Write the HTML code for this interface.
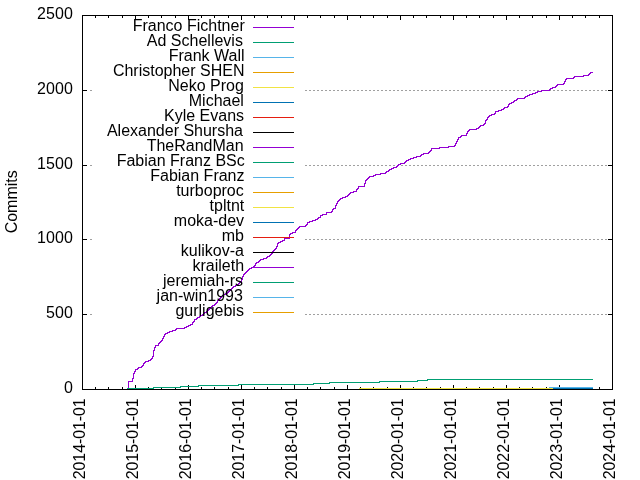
<!DOCTYPE html>
<html lang="en"><head><meta charset="utf-8"><title>Commits</title>
<style>html,body{margin:0;padding:0;background:#fff;overflow:hidden}svg{display:block;will-change:transform}text{font-family:"Liberation Sans",sans-serif;font-size:16px;fill:#000}</style></head><body>
<svg width="640" height="480" viewBox="0 0 640 480">
<rect width="640" height="480" fill="#fff"/>
<g fill="#a0a0a0" shape-rendering="crispEdges">
<rect x="90" y="90" width="2" height="1"/><rect x="305" y="90" width="2" height="1"/><rect x="309" y="90" width="2" height="1"/><rect x="313" y="90" width="2" height="1"/><rect x="317" y="90" width="2" height="1"/><rect x="321" y="90" width="2" height="1"/><rect x="325" y="90" width="2" height="1"/><rect x="329" y="90" width="2" height="1"/><rect x="333" y="90" width="2" height="1"/><rect x="337" y="90" width="2" height="1"/><rect x="341" y="90" width="2" height="1"/><rect x="345" y="90" width="2" height="1"/><rect x="349" y="90" width="2" height="1"/><rect x="353" y="90" width="2" height="1"/><rect x="357" y="90" width="2" height="1"/><rect x="361" y="90" width="2" height="1"/><rect x="365" y="90" width="2" height="1"/><rect x="369" y="90" width="2" height="1"/><rect x="373" y="90" width="2" height="1"/><rect x="377" y="90" width="2" height="1"/><rect x="381" y="90" width="2" height="1"/><rect x="385" y="90" width="2" height="1"/><rect x="389" y="90" width="2" height="1"/><rect x="393" y="90" width="2" height="1"/><rect x="397" y="90" width="2" height="1"/><rect x="401" y="90" width="2" height="1"/><rect x="405" y="90" width="2" height="1"/><rect x="409" y="90" width="2" height="1"/><rect x="413" y="90" width="2" height="1"/><rect x="417" y="90" width="2" height="1"/><rect x="421" y="90" width="2" height="1"/><rect x="425" y="90" width="2" height="1"/><rect x="429" y="90" width="2" height="1"/><rect x="433" y="90" width="2" height="1"/><rect x="437" y="90" width="2" height="1"/><rect x="441" y="90" width="2" height="1"/><rect x="445" y="90" width="2" height="1"/><rect x="449" y="90" width="2" height="1"/><rect x="453" y="90" width="2" height="1"/><rect x="457" y="90" width="2" height="1"/><rect x="461" y="90" width="2" height="1"/><rect x="465" y="90" width="2" height="1"/><rect x="469" y="90" width="2" height="1"/><rect x="473" y="90" width="2" height="1"/><rect x="477" y="90" width="2" height="1"/><rect x="481" y="90" width="2" height="1"/><rect x="485" y="90" width="2" height="1"/><rect x="489" y="90" width="2" height="1"/><rect x="493" y="90" width="2" height="1"/><rect x="497" y="90" width="2" height="1"/><rect x="501" y="90" width="2" height="1"/><rect x="505" y="90" width="2" height="1"/><rect x="509" y="90" width="2" height="1"/><rect x="513" y="90" width="2" height="1"/><rect x="517" y="90" width="2" height="1"/><rect x="521" y="90" width="2" height="1"/><rect x="525" y="90" width="2" height="1"/><rect x="529" y="90" width="2" height="1"/><rect x="533" y="90" width="2" height="1"/><rect x="537" y="90" width="2" height="1"/><rect x="541" y="90" width="2" height="1"/><rect x="545" y="90" width="2" height="1"/><rect x="549" y="90" width="2" height="1"/><rect x="553" y="90" width="2" height="1"/><rect x="557" y="90" width="2" height="1"/><rect x="561" y="90" width="2" height="1"/><rect x="565" y="90" width="2" height="1"/><rect x="569" y="90" width="2" height="1"/><rect x="573" y="90" width="2" height="1"/><rect x="577" y="90" width="2" height="1"/><rect x="581" y="90" width="2" height="1"/><rect x="585" y="90" width="2" height="1"/><rect x="589" y="90" width="2" height="1"/><rect x="593" y="90" width="2" height="1"/><rect x="597" y="90" width="2" height="1"/><rect x="601" y="90" width="2" height="1"/><rect x="605" y="90" width="2" height="1"/>
<rect x="90" y="165" width="2" height="1"/><rect x="305" y="165" width="2" height="1"/><rect x="309" y="165" width="2" height="1"/><rect x="313" y="165" width="2" height="1"/><rect x="317" y="165" width="2" height="1"/><rect x="321" y="165" width="2" height="1"/><rect x="325" y="165" width="2" height="1"/><rect x="329" y="165" width="2" height="1"/><rect x="333" y="165" width="2" height="1"/><rect x="337" y="165" width="2" height="1"/><rect x="341" y="165" width="2" height="1"/><rect x="345" y="165" width="2" height="1"/><rect x="349" y="165" width="2" height="1"/><rect x="353" y="165" width="2" height="1"/><rect x="357" y="165" width="2" height="1"/><rect x="361" y="165" width="2" height="1"/><rect x="365" y="165" width="2" height="1"/><rect x="369" y="165" width="2" height="1"/><rect x="373" y="165" width="2" height="1"/><rect x="377" y="165" width="2" height="1"/><rect x="381" y="165" width="2" height="1"/><rect x="385" y="165" width="2" height="1"/><rect x="389" y="165" width="2" height="1"/><rect x="393" y="165" width="2" height="1"/><rect x="397" y="165" width="2" height="1"/><rect x="401" y="165" width="2" height="1"/><rect x="405" y="165" width="2" height="1"/><rect x="409" y="165" width="2" height="1"/><rect x="413" y="165" width="2" height="1"/><rect x="417" y="165" width="2" height="1"/><rect x="421" y="165" width="2" height="1"/><rect x="425" y="165" width="2" height="1"/><rect x="429" y="165" width="2" height="1"/><rect x="433" y="165" width="2" height="1"/><rect x="437" y="165" width="2" height="1"/><rect x="441" y="165" width="2" height="1"/><rect x="445" y="165" width="2" height="1"/><rect x="449" y="165" width="2" height="1"/><rect x="453" y="165" width="2" height="1"/><rect x="457" y="165" width="2" height="1"/><rect x="461" y="165" width="2" height="1"/><rect x="465" y="165" width="2" height="1"/><rect x="469" y="165" width="2" height="1"/><rect x="473" y="165" width="2" height="1"/><rect x="477" y="165" width="2" height="1"/><rect x="481" y="165" width="2" height="1"/><rect x="485" y="165" width="2" height="1"/><rect x="489" y="165" width="2" height="1"/><rect x="493" y="165" width="2" height="1"/><rect x="497" y="165" width="2" height="1"/><rect x="501" y="165" width="2" height="1"/><rect x="505" y="165" width="2" height="1"/><rect x="509" y="165" width="2" height="1"/><rect x="513" y="165" width="2" height="1"/><rect x="517" y="165" width="2" height="1"/><rect x="521" y="165" width="2" height="1"/><rect x="525" y="165" width="2" height="1"/><rect x="529" y="165" width="2" height="1"/><rect x="533" y="165" width="2" height="1"/><rect x="537" y="165" width="2" height="1"/><rect x="541" y="165" width="2" height="1"/><rect x="545" y="165" width="2" height="1"/><rect x="549" y="165" width="2" height="1"/><rect x="553" y="165" width="2" height="1"/><rect x="557" y="165" width="2" height="1"/><rect x="561" y="165" width="2" height="1"/><rect x="565" y="165" width="2" height="1"/><rect x="569" y="165" width="2" height="1"/><rect x="573" y="165" width="2" height="1"/><rect x="577" y="165" width="2" height="1"/><rect x="581" y="165" width="2" height="1"/><rect x="585" y="165" width="2" height="1"/><rect x="589" y="165" width="2" height="1"/><rect x="593" y="165" width="2" height="1"/><rect x="597" y="165" width="2" height="1"/><rect x="601" y="165" width="2" height="1"/><rect x="605" y="165" width="2" height="1"/>
<rect x="90" y="239" width="2" height="1"/><rect x="305" y="239" width="2" height="1"/><rect x="309" y="239" width="2" height="1"/><rect x="313" y="239" width="2" height="1"/><rect x="317" y="239" width="2" height="1"/><rect x="321" y="239" width="2" height="1"/><rect x="325" y="239" width="2" height="1"/><rect x="329" y="239" width="2" height="1"/><rect x="333" y="239" width="2" height="1"/><rect x="337" y="239" width="2" height="1"/><rect x="341" y="239" width="2" height="1"/><rect x="345" y="239" width="2" height="1"/><rect x="349" y="239" width="2" height="1"/><rect x="353" y="239" width="2" height="1"/><rect x="357" y="239" width="2" height="1"/><rect x="361" y="239" width="2" height="1"/><rect x="365" y="239" width="2" height="1"/><rect x="369" y="239" width="2" height="1"/><rect x="373" y="239" width="2" height="1"/><rect x="377" y="239" width="2" height="1"/><rect x="381" y="239" width="2" height="1"/><rect x="385" y="239" width="2" height="1"/><rect x="389" y="239" width="2" height="1"/><rect x="393" y="239" width="2" height="1"/><rect x="397" y="239" width="2" height="1"/><rect x="401" y="239" width="2" height="1"/><rect x="405" y="239" width="2" height="1"/><rect x="409" y="239" width="2" height="1"/><rect x="413" y="239" width="2" height="1"/><rect x="417" y="239" width="2" height="1"/><rect x="421" y="239" width="2" height="1"/><rect x="425" y="239" width="2" height="1"/><rect x="429" y="239" width="2" height="1"/><rect x="433" y="239" width="2" height="1"/><rect x="437" y="239" width="2" height="1"/><rect x="441" y="239" width="2" height="1"/><rect x="445" y="239" width="2" height="1"/><rect x="449" y="239" width="2" height="1"/><rect x="453" y="239" width="2" height="1"/><rect x="457" y="239" width="2" height="1"/><rect x="461" y="239" width="2" height="1"/><rect x="465" y="239" width="2" height="1"/><rect x="469" y="239" width="2" height="1"/><rect x="473" y="239" width="2" height="1"/><rect x="477" y="239" width="2" height="1"/><rect x="481" y="239" width="2" height="1"/><rect x="485" y="239" width="2" height="1"/><rect x="489" y="239" width="2" height="1"/><rect x="493" y="239" width="2" height="1"/><rect x="497" y="239" width="2" height="1"/><rect x="501" y="239" width="2" height="1"/><rect x="505" y="239" width="2" height="1"/><rect x="509" y="239" width="2" height="1"/><rect x="513" y="239" width="2" height="1"/><rect x="517" y="239" width="2" height="1"/><rect x="521" y="239" width="2" height="1"/><rect x="525" y="239" width="2" height="1"/><rect x="529" y="239" width="2" height="1"/><rect x="533" y="239" width="2" height="1"/><rect x="537" y="239" width="2" height="1"/><rect x="541" y="239" width="2" height="1"/><rect x="545" y="239" width="2" height="1"/><rect x="549" y="239" width="2" height="1"/><rect x="553" y="239" width="2" height="1"/><rect x="557" y="239" width="2" height="1"/><rect x="561" y="239" width="2" height="1"/><rect x="565" y="239" width="2" height="1"/><rect x="569" y="239" width="2" height="1"/><rect x="573" y="239" width="2" height="1"/><rect x="577" y="239" width="2" height="1"/><rect x="581" y="239" width="2" height="1"/><rect x="585" y="239" width="2" height="1"/><rect x="589" y="239" width="2" height="1"/><rect x="593" y="239" width="2" height="1"/><rect x="597" y="239" width="2" height="1"/><rect x="601" y="239" width="2" height="1"/><rect x="605" y="239" width="2" height="1"/>
<rect x="90" y="314" width="2" height="1"/><rect x="305" y="314" width="2" height="1"/><rect x="309" y="314" width="2" height="1"/><rect x="313" y="314" width="2" height="1"/><rect x="317" y="314" width="2" height="1"/><rect x="321" y="314" width="2" height="1"/><rect x="325" y="314" width="2" height="1"/><rect x="329" y="314" width="2" height="1"/><rect x="333" y="314" width="2" height="1"/><rect x="337" y="314" width="2" height="1"/><rect x="341" y="314" width="2" height="1"/><rect x="345" y="314" width="2" height="1"/><rect x="349" y="314" width="2" height="1"/><rect x="353" y="314" width="2" height="1"/><rect x="357" y="314" width="2" height="1"/><rect x="361" y="314" width="2" height="1"/><rect x="365" y="314" width="2" height="1"/><rect x="369" y="314" width="2" height="1"/><rect x="373" y="314" width="2" height="1"/><rect x="377" y="314" width="2" height="1"/><rect x="381" y="314" width="2" height="1"/><rect x="385" y="314" width="2" height="1"/><rect x="389" y="314" width="2" height="1"/><rect x="393" y="314" width="2" height="1"/><rect x="397" y="314" width="2" height="1"/><rect x="401" y="314" width="2" height="1"/><rect x="405" y="314" width="2" height="1"/><rect x="409" y="314" width="2" height="1"/><rect x="413" y="314" width="2" height="1"/><rect x="417" y="314" width="2" height="1"/><rect x="421" y="314" width="2" height="1"/><rect x="425" y="314" width="2" height="1"/><rect x="429" y="314" width="2" height="1"/><rect x="433" y="314" width="2" height="1"/><rect x="437" y="314" width="2" height="1"/><rect x="441" y="314" width="2" height="1"/><rect x="445" y="314" width="2" height="1"/><rect x="449" y="314" width="2" height="1"/><rect x="453" y="314" width="2" height="1"/><rect x="457" y="314" width="2" height="1"/><rect x="461" y="314" width="2" height="1"/><rect x="465" y="314" width="2" height="1"/><rect x="469" y="314" width="2" height="1"/><rect x="473" y="314" width="2" height="1"/><rect x="477" y="314" width="2" height="1"/><rect x="481" y="314" width="2" height="1"/><rect x="485" y="314" width="2" height="1"/><rect x="489" y="314" width="2" height="1"/><rect x="493" y="314" width="2" height="1"/><rect x="497" y="314" width="2" height="1"/><rect x="501" y="314" width="2" height="1"/><rect x="505" y="314" width="2" height="1"/><rect x="509" y="314" width="2" height="1"/><rect x="513" y="314" width="2" height="1"/><rect x="517" y="314" width="2" height="1"/><rect x="521" y="314" width="2" height="1"/><rect x="525" y="314" width="2" height="1"/><rect x="529" y="314" width="2" height="1"/><rect x="533" y="314" width="2" height="1"/><rect x="537" y="314" width="2" height="1"/><rect x="541" y="314" width="2" height="1"/><rect x="545" y="314" width="2" height="1"/><rect x="549" y="314" width="2" height="1"/><rect x="553" y="314" width="2" height="1"/><rect x="557" y="314" width="2" height="1"/><rect x="561" y="314" width="2" height="1"/><rect x="565" y="314" width="2" height="1"/><rect x="569" y="314" width="2" height="1"/><rect x="573" y="314" width="2" height="1"/><rect x="577" y="314" width="2" height="1"/><rect x="581" y="314" width="2" height="1"/><rect x="585" y="314" width="2" height="1"/><rect x="589" y="314" width="2" height="1"/><rect x="593" y="314" width="2" height="1"/><rect x="597" y="314" width="2" height="1"/><rect x="601" y="314" width="2" height="1"/><rect x="605" y="314" width="2" height="1"/>
</g>
<g fill="#000" shape-rendering="crispEdges">
<rect x="95" y="387" width="1" height="2"/>
<rect x="95" y="16" width="1" height="2"/>
<rect x="108" y="387" width="1" height="2"/>
<rect x="108" y="16" width="1" height="2"/>
<rect x="122" y="387" width="1" height="2"/>
<rect x="122" y="16" width="1" height="2"/>
<rect x="135" y="385" width="1" height="4"/>
<rect x="135" y="16" width="1" height="4"/>
<rect x="148" y="387" width="1" height="2"/>
<rect x="148" y="16" width="1" height="2"/>
<rect x="161" y="387" width="1" height="2"/>
<rect x="161" y="16" width="1" height="2"/>
<rect x="175" y="387" width="1" height="2"/>
<rect x="175" y="16" width="1" height="2"/>
<rect x="188" y="385" width="1" height="4"/>
<rect x="188" y="16" width="1" height="4"/>
<rect x="201" y="387" width="1" height="2"/>
<rect x="201" y="16" width="1" height="2"/>
<rect x="214" y="387" width="1" height="2"/>
<rect x="214" y="16" width="1" height="2"/>
<rect x="228" y="387" width="1" height="2"/>
<rect x="228" y="16" width="1" height="2"/>
<rect x="241" y="385" width="1" height="4"/>
<rect x="241" y="16" width="1" height="4"/>
<rect x="254" y="387" width="1" height="2"/>
<rect x="254" y="16" width="1" height="2"/>
<rect x="267" y="387" width="1" height="2"/>
<rect x="267" y="16" width="1" height="2"/>
<rect x="281" y="387" width="1" height="2"/>
<rect x="281" y="16" width="1" height="2"/>
<rect x="294" y="385" width="1" height="4"/>
<rect x="294" y="16" width="1" height="4"/>
<rect x="307" y="387" width="1" height="2"/>
<rect x="307" y="16" width="1" height="2"/>
<rect x="320" y="387" width="1" height="2"/>
<rect x="320" y="16" width="1" height="2"/>
<rect x="334" y="387" width="1" height="2"/>
<rect x="334" y="16" width="1" height="2"/>
<rect x="347" y="385" width="1" height="4"/>
<rect x="347" y="16" width="1" height="4"/>
<rect x="360" y="387" width="1" height="2"/>
<rect x="360" y="16" width="1" height="2"/>
<rect x="373" y="387" width="1" height="2"/>
<rect x="373" y="16" width="1" height="2"/>
<rect x="387" y="387" width="1" height="2"/>
<rect x="387" y="16" width="1" height="2"/>
<rect x="400" y="385" width="1" height="4"/>
<rect x="400" y="16" width="1" height="4"/>
<rect x="413" y="387" width="1" height="2"/>
<rect x="413" y="16" width="1" height="2"/>
<rect x="426" y="387" width="1" height="2"/>
<rect x="426" y="16" width="1" height="2"/>
<rect x="440" y="387" width="1" height="2"/>
<rect x="440" y="16" width="1" height="2"/>
<rect x="453" y="385" width="1" height="4"/>
<rect x="453" y="16" width="1" height="4"/>
<rect x="466" y="387" width="1" height="2"/>
<rect x="466" y="16" width="1" height="2"/>
<rect x="479" y="387" width="1" height="2"/>
<rect x="479" y="16" width="1" height="2"/>
<rect x="493" y="387" width="1" height="2"/>
<rect x="493" y="16" width="1" height="2"/>
<rect x="506" y="385" width="1" height="4"/>
<rect x="506" y="16" width="1" height="4"/>
<rect x="519" y="387" width="1" height="2"/>
<rect x="519" y="16" width="1" height="2"/>
<rect x="532" y="387" width="1" height="2"/>
<rect x="532" y="16" width="1" height="2"/>
<rect x="546" y="387" width="1" height="2"/>
<rect x="546" y="16" width="1" height="2"/>
<rect x="559" y="385" width="1" height="4"/>
<rect x="559" y="16" width="1" height="4"/>
<rect x="572" y="387" width="1" height="2"/>
<rect x="572" y="16" width="1" height="2"/>
<rect x="585" y="387" width="1" height="2"/>
<rect x="585" y="16" width="1" height="2"/>
<rect x="599" y="387" width="1" height="2"/>
<rect x="599" y="16" width="1" height="2"/>
<rect x="83" y="15" width="4" height="1"/>
<rect x="608" y="15" width="4" height="1"/>
<rect x="83" y="90" width="4" height="1"/>
<rect x="608" y="90" width="4" height="1"/>
<rect x="83" y="165" width="4" height="1"/>
<rect x="608" y="165" width="4" height="1"/>
<rect x="83" y="239" width="4" height="1"/>
<rect x="608" y="239" width="4" height="1"/>
<rect x="83" y="314" width="4" height="1"/>
<rect x="608" y="314" width="4" height="1"/>
<rect x="83" y="389" width="4" height="1"/>
<rect x="608" y="389" width="4" height="1"/>
</g>
<path fill="#9400d3" shape-rendering="crispEdges" d="M128 381h1v8h-1zM129 381h3v1h-3zM132 378h1v4h-1zM133 373h1v6h-1zM134 371h1v3h-1zM135 369h1v3h-1zM136 369h1v1h-1zM137 368h1v2h-1zM138 367h1v2h-1zM139 367h2v1h-2zM141 366h1v2h-1zM142 365h1v2h-1zM143 363h1v3h-1zM144 362h1v2h-1zM145 361h1v2h-1zM146 361h2v1h-2zM148 360h1v2h-1zM149 360h1v1h-1zM150 359h1v2h-1zM151 358h1v2h-1zM152 356h1v3h-1zM153 350h1v7h-1zM154 347h1v4h-1zM155 345h1v3h-1zM156 345h2v1h-2zM158 343h1v3h-1zM159 342h1v2h-1zM160 341h1v2h-1zM161 340h1v2h-1zM162 338h1v3h-1zM163 336h1v3h-1zM164 334h1v3h-1zM165 333h1v2h-1zM166 333h1v1h-1zM167 332h1v2h-1zM168 332h1v1h-1zM169 331h1v2h-1zM170 331h2v1h-2zM172 330h1v2h-1zM173 330h2v1h-2zM175 329h1v2h-1zM176 328h1v2h-1zM177 328h7v1h-7zM184 327h1v2h-1zM185 327h1v1h-1zM186 326h1v2h-1zM187 326h1v1h-1zM188 325h1v2h-1zM189 325h1v1h-1zM190 324h1v2h-1zM191 324h1v1h-1zM192 322h1v3h-1zM193 321h1v2h-1zM194 319h1v3h-1zM195 319h1v1h-1zM196 318h1v2h-1zM197 317h1v2h-1zM198 317h1v1h-1zM199 316h1v2h-1zM200 315h1v2h-1zM201 315h1v1h-1zM202 314h1v2h-1zM203 313h1v2h-1zM204 312h1v2h-1zM205 312h1v1h-1zM206 311h1v2h-1zM207 310h1v2h-1zM208 309h1v2h-1zM209 308h1v2h-1zM210 307h1v2h-1zM211 306h1v2h-1zM212 305h1v2h-1zM213 305h1v1h-1zM214 304h1v2h-1zM215 303h1v2h-1zM216 302h1v2h-1zM217 300h1v3h-1zM218 299h1v2h-1zM219 298h1v2h-1zM220 297h1v2h-1zM221 296h1v2h-1zM222 295h1v2h-1zM223 294h1v2h-1zM224 294h1v1h-1zM225 293h1v2h-1zM226 293h1v1h-1zM227 292h1v2h-1zM228 291h1v2h-1zM229 290h1v2h-1zM230 289h1v2h-1zM231 288h1v2h-1zM232 287h1v2h-1zM233 286h1v2h-1zM234 286h1v1h-1zM235 285h1v2h-1zM236 285h1v1h-1zM237 284h1v2h-1zM238 283h1v2h-1zM239 282h1v2h-1zM240 281h1v2h-1zM241 279h1v3h-1zM242 276h1v4h-1zM243 274h1v3h-1zM244 273h1v2h-1zM245 272h1v2h-1zM246 271h1v2h-1zM247 270h1v2h-1zM248 269h1v2h-1zM249 268h1v2h-1zM250 268h1v1h-1zM251 267h1v2h-1zM252 267h1v1h-1zM253 266h1v2h-1zM254 265h1v2h-1zM255 263h1v3h-1zM256 262h1v2h-1zM257 262h1v1h-1zM258 261h1v2h-1zM259 260h1v2h-1zM260 259h1v2h-1zM261 259h2v1h-2zM263 258h1v2h-1zM264 258h2v1h-2zM266 257h1v2h-1zM267 256h1v2h-1zM268 256h1v1h-1zM269 255h1v2h-1zM270 254h1v2h-1zM271 253h1v2h-1zM272 251h1v3h-1zM273 250h1v2h-1zM274 249h1v2h-1zM275 248h1v2h-1zM276 246h1v3h-1zM277 243h1v4h-1zM278 242h1v2h-1zM279 242h1v1h-1zM280 241h1v2h-1zM281 241h1v1h-1zM282 240h1v2h-1zM283 240h1v1h-1zM284 238h1v3h-1zM285 238h4v1h-4zM289 234h1v5h-1zM290 233h1v2h-1zM291 233h1v1h-1zM292 232h1v2h-1zM293 232h2v1h-2zM295 230h1v3h-1zM296 229h1v2h-1zM297 228h1v2h-1zM298 227h1v2h-1zM299 226h1v2h-1zM300 226h5v1h-5zM305 225h1v2h-1zM306 224h1v2h-1zM307 222h1v3h-1zM308 222h1v1h-1zM309 221h1v2h-1zM310 221h2v1h-2zM312 220h1v2h-1zM313 220h2v1h-2zM315 219h1v2h-1zM316 219h1v1h-1zM317 218h1v2h-1zM318 217h1v2h-1zM319 217h1v1h-1zM320 215h1v3h-1zM321 215h1v1h-1zM322 214h1v2h-1zM323 214h3v1h-3zM326 212h1v3h-1zM327 212h4v1h-4zM331 211h1v2h-1zM332 209h1v3h-1zM333 208h1v2h-1zM334 208h1v1h-1zM335 205h1v4h-1zM336 203h1v3h-1zM337 201h1v3h-1zM338 200h1v2h-1zM339 199h1v2h-1zM340 198h1v2h-1zM341 198h1v1h-1zM342 197h1v2h-1zM343 197h2v1h-2zM345 196h1v2h-1zM346 196h1v1h-1zM347 195h1v2h-1zM348 194h1v2h-1zM349 193h1v2h-1zM350 192h1v2h-1zM351 192h2v1h-2zM353 191h1v2h-1zM354 191h2v1h-2zM356 189h1v3h-1zM357 188h1v2h-1zM358 186h1v3h-1zM359 186h5v1h-5zM364 183h1v4h-1zM365 180h1v4h-1zM366 179h1v2h-1zM367 178h1v2h-1zM368 177h1v2h-1zM369 176h1v2h-1zM370 176h3v1h-3zM373 175h1v2h-1zM374 175h1v1h-1zM375 174h1v2h-1zM376 174h4v1h-4zM380 173h1v2h-1zM381 173h4v1h-4zM385 172h1v2h-1zM386 171h1v2h-1zM387 171h1v1h-1zM388 170h1v2h-1zM389 169h1v2h-1zM390 169h1v1h-1zM391 168h1v2h-1zM392 168h1v1h-1zM393 167h1v2h-1zM394 167h2v1h-2zM396 166h1v2h-1zM397 165h1v2h-1zM398 164h1v2h-1zM399 164h1v1h-1zM400 163h1v2h-1zM401 163h3v1h-3zM404 162h1v2h-1zM405 161h1v2h-1zM406 160h1v2h-1zM407 160h1v1h-1zM408 159h1v2h-1zM409 159h1v1h-1zM410 158h1v2h-1zM411 158h2v1h-2zM413 157h1v2h-1zM414 157h2v1h-2zM416 156h1v2h-1zM417 156h3v1h-3zM420 155h1v2h-1zM421 154h1v2h-1zM422 154h1v1h-1zM423 153h1v2h-1zM424 153h4v1h-4zM428 152h1v2h-1zM429 151h1v2h-1zM430 150h1v2h-1zM431 148h1v3h-1zM432 148h7v1h-7zM439 147h1v2h-1zM440 147h8v1h-8zM448 146h1v2h-1zM449 146h5v1h-5zM454 145h1v2h-1zM455 143h1v3h-1zM456 141h1v3h-1zM457 139h1v3h-1zM458 137h1v3h-1zM459 137h1v1h-1zM460 136h1v2h-1zM461 135h1v2h-1zM462 135h4v1h-4zM466 133h1v3h-1zM467 131h1v3h-1zM468 130h1v2h-1zM469 129h1v2h-1zM470 129h6v1h-6zM476 128h1v2h-1zM477 128h1v1h-1zM478 127h1v2h-1zM479 126h1v2h-1zM480 125h1v2h-1zM481 125h2v1h-2zM483 124h1v2h-1zM484 123h1v2h-1zM485 120h1v4h-1zM486 119h1v2h-1zM487 117h1v3h-1zM488 116h1v2h-1zM489 115h1v2h-1zM490 115h1v1h-1zM491 114h1v2h-1zM492 114h2v1h-2zM494 113h1v2h-1zM495 111h1v3h-1zM496 111h2v1h-2zM498 110h1v2h-1zM499 110h2v1h-2zM501 109h1v2h-1zM502 109h1v1h-1zM503 108h1v2h-1zM504 107h1v2h-1zM505 107h2v1h-2zM507 106h1v2h-1zM508 104h1v3h-1zM509 103h1v2h-1zM510 103h1v1h-1zM511 102h1v2h-1zM512 102h1v1h-1zM513 101h1v2h-1zM514 100h1v2h-1zM515 100h1v1h-1zM516 99h1v2h-1zM517 98h1v2h-1zM518 98h6v1h-6zM524 97h1v2h-1zM525 96h1v2h-1zM526 96h1v1h-1zM527 95h1v2h-1zM528 95h1v1h-1zM529 94h1v2h-1zM530 94h2v1h-2zM532 93h1v2h-1zM533 93h2v1h-2zM535 92h1v2h-1zM536 92h1v1h-1zM537 91h1v2h-1zM538 91h3v1h-3zM541 90h1v2h-1zM542 90h7v1h-7zM549 89h1v2h-1zM550 88h1v2h-1zM551 88h1v1h-1zM552 87h1v2h-1zM553 87h2v1h-2zM555 86h1v2h-1zM556 85h1v2h-1zM557 84h1v2h-1zM558 84h5v1h-5zM563 83h1v2h-1zM564 81h1v3h-1zM565 79h1v3h-1zM566 78h1v2h-1zM567 78h6v1h-6zM573 77h1v2h-1zM574 76h1v2h-1zM575 76h8v1h-8zM583 75h1v2h-1zM584 75h4v1h-4zM588 74h1v2h-1zM589 73h1v2h-1zM590 72h1v2h-1zM591 72h2v1h-2z"/>
<g text-anchor="end" opacity="0.999">
<text x="244.75" y="31">Franco Fichtner</text>
<text x="242.9" y="46">Ad Schellevis</text>
<text x="244.5" y="61">Frank Wall</text>
<text x="244.5" y="76">Christopher SHEN</text>
<text x="243.9" y="91">Neko Prog</text>
<text x="243.9" y="106">Michael</text>
<text x="244.1" y="121">Kyle Evans</text>
<text x="243" y="136">Alexander Shursha</text>
<text x="243.6" y="151">TheRandMan</text>
<text x="244.75" y="166">Fabian Franz BSc</text>
<text x="244.5" y="181">Fabian Franz</text>
<text x="243.75" y="196">turboproc</text>
<text x="244.25" y="211">tpltnt</text>
<text x="244.1" y="226">moka-dev</text>
<text x="243.9" y="241">mb</text>
<text x="244" y="256">kulikov-a</text>
<text x="244.1" y="271">kraileth</text>
<text x="243" y="286">jeremiah-rs</text>
<text x="242.9" y="301">jan-win1993</text>
<text x="243.9" y="316">gurligebis</text>
</g>
<g shape-rendering="crispEdges">
<rect x="253" y="27" width="41" height="1" fill="#9400d3"/>
<rect x="253" y="42" width="41" height="1" fill="#009e73"/>
<rect x="253" y="57" width="41" height="1" fill="#56b4e9"/>
<rect x="253" y="72" width="41" height="1" fill="#e69f00"/>
<rect x="253" y="87" width="41" height="1" fill="#f0e442"/>
<rect x="253" y="102" width="41" height="1" fill="#0072b2"/>
<rect x="253" y="117" width="41" height="1" fill="#e51e10"/>
<rect x="253" y="132" width="41" height="1" fill="#000000"/>
<rect x="253" y="147" width="41" height="1" fill="#9400d3"/>
<rect x="253" y="162" width="41" height="1" fill="#009e73"/>
<rect x="253" y="177" width="41" height="1" fill="#56b4e9"/>
<rect x="253" y="192" width="41" height="1" fill="#e69f00"/>
<rect x="253" y="207" width="41" height="1" fill="#f0e442"/>
<rect x="253" y="222" width="41" height="1" fill="#0072b2"/>
<rect x="253" y="237" width="41" height="1" fill="#e51e10"/>
<rect x="253" y="252" width="41" height="1" fill="#000000"/>
<rect x="253" y="267" width="41" height="1" fill="#9400d3"/>
<rect x="253" y="282" width="41" height="1" fill="#009e73"/>
<rect x="253" y="297" width="41" height="1" fill="#56b4e9"/>
<rect x="253" y="312" width="41" height="1" fill="#e69f00"/>
</g>
<g shape-rendering="crispEdges">
<rect x="127" y="388" width="27" height="1" fill="#009e73"/>
<rect x="153" y="387" width="28" height="1" fill="#009e73"/>
<rect x="180" y="386" width="19" height="1" fill="#009e73"/>
<rect x="198" y="385" width="41" height="1" fill="#009e73"/>
<rect x="238" y="384" width="76" height="1" fill="#009e73"/>
<rect x="313" y="383" width="17" height="1" fill="#009e73"/>
<rect x="329" y="382" width="51" height="1" fill="#009e73"/>
<rect x="379" y="381" width="39" height="1" fill="#009e73"/>
<rect x="417" y="380" width="11" height="1" fill="#009e73"/>
<rect x="427" y="379" width="166" height="1" fill="#009e73"/>
<rect x="359" y="388" width="194" height="1" fill="#f0e442"/>
<rect x="549" y="387" width="44" height="1" fill="#56b4e9"/>
<rect x="553" y="388" width="40" height="1" fill="#0072b2"/>
</g>
<g fill="#000" shape-rendering="crispEdges">
<rect x="82" y="15" width="531" height="1"/><rect x="82" y="389" width="531" height="1"/>
<rect x="82" y="15" width="1" height="375"/><rect x="612" y="15" width="1" height="375"/>
</g>
<g text-anchor="end" opacity="0.999">
<text x="73" y="19" textLength="36">2500</text>
<text x="73" y="94" textLength="36">2000</text>
<text x="73" y="169" textLength="36">1500</text>
<text x="73" y="243" textLength="36">1000</text>
<text x="73" y="318" textLength="27">500</text>
<text x="73" y="393" textLength="9">0</text>
</g>
<text text-anchor="end" textLength="81" opacity="0.999" transform="translate(85,398.25) rotate(-90)">2014-01-01</text>
<text text-anchor="end" textLength="81" opacity="0.999" transform="translate(138,398.25) rotate(-90)">2015-01-01</text>
<text text-anchor="end" textLength="81" opacity="0.999" transform="translate(191,398.25) rotate(-90)">2016-01-01</text>
<text text-anchor="end" textLength="81" opacity="0.999" transform="translate(244,398.25) rotate(-90)">2017-01-01</text>
<text text-anchor="end" textLength="81" opacity="0.999" transform="translate(297,398.25) rotate(-90)">2018-01-01</text>
<text text-anchor="end" textLength="81" opacity="0.999" transform="translate(350,398.25) rotate(-90)">2019-01-01</text>
<text text-anchor="end" textLength="81" opacity="0.999" transform="translate(403,398.25) rotate(-90)">2020-01-01</text>
<text text-anchor="end" textLength="81" opacity="0.999" transform="translate(456,398.25) rotate(-90)">2021-01-01</text>
<text text-anchor="end" textLength="81" opacity="0.999" transform="translate(509,398.25) rotate(-90)">2022-01-01</text>
<text text-anchor="end" textLength="81" opacity="0.999" transform="translate(562,398.25) rotate(-90)">2023-01-01</text>
<text text-anchor="end" textLength="81" opacity="0.999" transform="translate(615,398.25) rotate(-90)">2024-01-01</text>
<text text-anchor="middle" opacity="0.999" transform="translate(17.1,201.8) rotate(-90)">Commits</text>
</svg></body></html>
